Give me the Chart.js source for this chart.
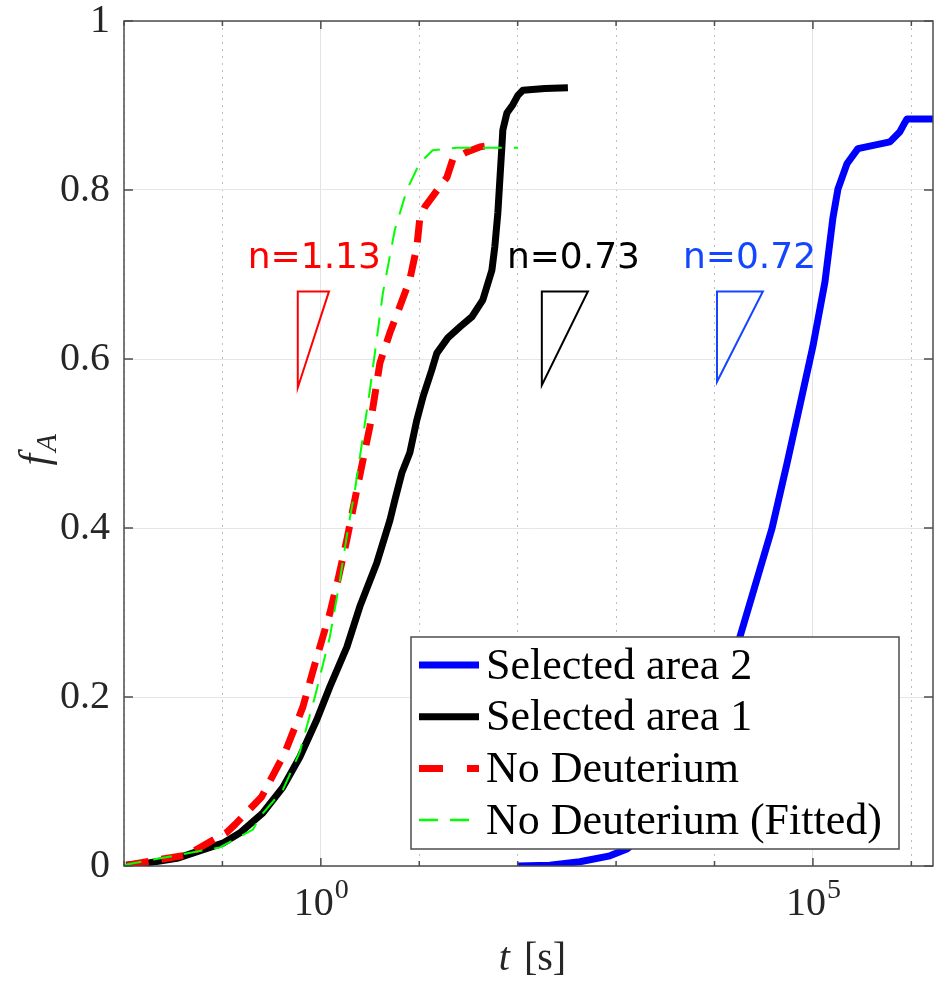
<!DOCTYPE html>
<html>
<head>
<meta charset="utf-8">
<script src="https://cdn.jsdelivr.net/npm/chart.js@4"></script>
<style>
  html, body { margin: 0; padding: 0; background: #fff; }
  canvas { display: block; }
</style>
</head>
<body>
<canvas id="chart" width="946" height="990"></canvas>
<script>
'use strict';
// Values: t in s (log axis), transformed fraction f_A
let area2T = [100.5, 212, 428, 865, 1288, 2786, 5623, 10090, 18110, 38300, 54450, 77270, 100000, 132400, 159700, 179500, 221600, 286700, 606000, 766000, 861000, 902000, 1660000];
let area2F = [0, 0.001, 0.005, 0.012, 0.020, 0.050, 0.106, 0.176, 0.271, 0.399, 0.476, 0.556, 0.615, 0.691, 0.767, 0.801, 0.831, 0.849, 0.857, 0.869, 0.880, 0.884, 0.884];

let area1T = [0.0105, 0.0183, 0.0344, 0.101, 0.150, 0.258, 0.411, 0.612, 0.910, 1.234, 1.837, 2.49, 3.71, 5.03, 5.65, 6.65, 8.02, 9.46, 10.9, 13.4, 15.1, 19.5, 25.9, 34.3, 44.3, 54.7, 58.6, 62.9, 65.9, 69.1, 70.7, 77.7, 89.3, 100.5, 113, 189, 324];
let area1F = [0.001, 0.004, 0.009, 0.027, 0.039, 0.063, 0.093, 0.129, 0.173, 0.212, 0.259, 0.307, 0.359, 0.409, 0.433, 0.465, 0.489, 0.528, 0.555, 0.587, 0.607, 0.625, 0.638, 0.650, 0.670, 0.705, 0.733, 0.773, 0.812, 0.851, 0.871, 0.891, 0.901, 0.912, 0.918, 0.920, 0.921];

let noDeutT = [0.0107, 0.0435, 0.111, 0.134, 0.251, 0.431, 0.656, 0.910, 1.234, 1.488, 1.837, 2.32, 3.15, 3.98, 5.03, 6.35, 8.02, 9.46, 10.1, 11.4, 14.4, 19.1, 21.9, 30.5, 41.3, 58.6];
let noDeutF = [0.001, 0.013, 0.040, 0.049, 0.082, 0.134, 0.188, 0.247, 0.299, 0.338, 0.386, 0.445, 0.520, 0.595, 0.631, 0.662, 0.694, 0.733, 0.765, 0.780, 0.796, 0.815, 0.836, 0.845, 0.851, 0.854];

let fitT = [0.0097, 0.094, 0.204, 0.240, 0.411, 0.612, 0.869, 1.234, 1.56, 1.88, 2.22, 3.15, 4.27, 5.65, 7.48, 10.1, 13.7, 24.1, 100.5];
let fitF = [0.001, 0.022, 0.043, 0.058, 0.090, 0.135, 0.200, 0.271, 0.338, 0.398, 0.445, 0.563, 0.678, 0.753, 0.800, 0.832, 0.847, 0.850, 0.850];

let seriesNames = ['Selected area 2', 'Selected area 1', 'No Deuterium', 'No Deuterium (Fitted)'];

// Avrami exponent notes with slope triangles
let noteText = ['n=1.13', 'n=0.73', 'n=0.72'];
let noteX = [0.181, 77.7, 4780];
let noteY = [0.708, 0.708, 0.708];
let triLeft = [0.583, 176, 10600];
let triRight = [1.21, 517, 31000];
let triTop = [0.680, 0.680, 0.680];
let triBottom = [0.566, 0.569, 0.573];

let decades = [0.01, 0.1, 1, 10, 100, 1000, 10000, 100000, 1000000];
let labelledDecades = [1, 100000];
let yTicks = [0, 0.2, 0.4, 0.6, 0.8, 1];

function toPoints(xs, ys) {
  let pts = [];
  for (let i = 0; i < xs.length; i++) {
    pts.push({ x: xs[i], y: ys[i] });
  }
  return pts;
}

let serif = '"Liberation Serif", "DejaVu Serif", serif';
let axisColor = '#4d4d4d';

// legend look for each series (drawn by hand inside the axes)
let legendStyle = [
  { color: '#0000ff', width: 7, dash: [] },
  { color: '#000000', width: 7, dash: [] },
  { color: '#ff0000', width: 7, dash: [24, 24] },
  { color: '#00ff00', width: 2.5, dash: [19, 12] }
];

let noteColors = ['#ff0000', '#000000', '#1446ff'];

let decorPlugin = {
  id: 'decor',
  afterDraw(chart) {
    let ctx = chart.ctx;
    let xs = chart.scales.x;
    let ys = chart.scales.y;
    let a = chart.chartArea;
    ctx.save();

    // slope notes
    for (let i = 0; i < noteText.length; i++) {
      ctx.fillStyle = noteColors[i];
      ctx.strokeStyle = noteColors[i];
      ctx.font = '36px "DejaVu Sans"';
      ctx.textAlign = 'left';
      ctx.textBaseline = 'alphabetic';
      ctx.fillText(noteText[i], xs.getPixelForValue(noteX[i]), ys.getPixelForValue(noteY[i]));
      let xl = xs.getPixelForValue(triLeft[i]);
      let xr = xs.getPixelForValue(triRight[i]);
      let yt = ys.getPixelForValue(triTop[i]);
      let yb = ys.getPixelForValue(triBottom[i]);
      ctx.lineWidth = 2;
      ctx.setLineDash([]);
      ctx.beginPath();
      ctx.moveTo(xl, yt);
      ctx.lineTo(xr, yt);
      ctx.lineTo(xl, yb);
      ctx.closePath();
      ctx.stroke();
    }

    // box and inward ticks
    ctx.strokeStyle = axisColor;
    ctx.lineWidth = 1.5;
    ctx.strokeRect(a.left, a.top, a.right - a.left, a.bottom - a.top);
    ctx.beginPath();
    for (let v of yTicks) {
      let py = ys.getPixelForValue(v);
      ctx.moveTo(a.left, py); ctx.lineTo(a.left + 9, py);
      ctx.moveTo(a.right, py); ctx.lineTo(a.right - 9, py);
    }
    for (let v of decades) {
      let px = xs.getPixelForValue(v);
      if (px < a.left - 1 || px > a.right + 1) continue;
      let len = labelledDecades.includes(v) ? 8 : 5;
      ctx.moveTo(px, a.bottom); ctx.lineTo(px, a.bottom - len);
      ctx.moveTo(px, a.top); ctx.lineTo(px, a.top + len);
    }
    ctx.stroke();

    // x tick labels with superscript exponent
    ctx.fillStyle = '#262626';
    ctx.textBaseline = 'alphabetic';
    ctx.textAlign = 'left';
    for (let v of labelledDecades) {
      let px = xs.getPixelForValue(v);
      let exp = String(Math.round(Math.log10(v)));
      ctx.font = '40px ' + serif;
      let w1 = ctx.measureText('10').width;
      ctx.font = '28px ' + serif;
      let w2 = ctx.measureText(exp).width;
      let x0 = px - (w1 + w2) / 2;
      ctx.font = '40px ' + serif;
      ctx.fillText('10', x0, a.bottom + 49);
      ctx.font = '28px ' + serif;
      ctx.fillText(exp, x0 + w1 + 1, a.bottom + 32);
    }

    // axis titles
    ctx.font = 'italic 40px ' + serif;
    let tW = ctx.measureText('t').width;
    ctx.font = '40px ' + serif;
    let sW = ctx.measureText(' [s]').width;
    let tx = (a.left + a.right) / 2 - (tW + sW) / 2 + 2;
    ctx.font = 'italic 40px ' + serif;
    ctx.fillText('t', tx, 970);
    ctx.font = '40px ' + serif;
    ctx.fillText(' [s]', tx + tW + 4, 970);

    ctx.save();
    ctx.translate(48, (a.top + a.bottom) / 2 + 22);
    ctx.rotate(-Math.PI / 2);
    ctx.font = 'italic 42px ' + serif;
    ctx.fillText('f', 0, 0);
    let fW = ctx.measureText('f').width;
    ctx.font = 'italic 29px ' + serif;
    ctx.fillText('A', fW + 2, 8);
    ctx.restore();

    // legend
    let lx = a.left + 287;
    let ly = a.top + 616;
    let lw = 488;
    let lh = 212;
    ctx.fillStyle = '#ffffff';
    ctx.fillRect(lx, ly, lw, lh);
    ctx.strokeStyle = '#4d4d4d';
    ctx.lineWidth = 1.5;
    ctx.setLineDash([]);
    ctx.strokeRect(lx, ly, lw, lh);
    ctx.font = '44px ' + serif;
    ctx.textBaseline = 'middle';
    for (let i = 0; i < seriesNames.length; i++) {
      let cy = ly + 28 + i * 51.7;
      let st = legendStyle[i];
      ctx.strokeStyle = st.color;
      ctx.lineWidth = st.width;
      ctx.setLineDash(st.dash);
      ctx.beginPath();
      ctx.moveTo(lx + 8, cy);
      ctx.lineTo(lx + 68, cy);
      ctx.stroke();
      ctx.setLineDash([]);
      ctx.fillStyle = '#000000';
      ctx.fillText(seriesNames[i], lx + 75, cy + 2);
    }
    ctx.restore();
  }
};

// keep tick label overhang from shrinking the plot box
function noScalePadding(scale) {
  scale.paddingTop = 0;
  scale.paddingBottom = 0;
  scale.paddingLeft = 0;
  scale.paddingRight = 0;
}

let chartCanvas = document.getElementById('chart');
let fChart = new Chart(chartCanvas, {
  type: 'line',
  data: {
    datasets: [
      {
        label: seriesNames[0],
        data: toPoints(area2T, area2F),
        borderColor: '#0000ff',
        borderWidth: 7,
        order: 3
      },
      {
        label: seriesNames[1],
        data: toPoints(area1T, area1F),
        borderColor: '#000000',
        borderWidth: 7,
        order: 2
      },
      {
        label: seriesNames[2],
        data: toPoints(noDeutT, noDeutF),
        borderColor: '#ff0000',
        borderWidth: 7,
        borderDash: [22, 13],
        order: 1
      },
      {
        label: seriesNames[3],
        data: toPoints(fitT, fitF),
        borderColor: '#00ff00',
        borderWidth: 2,
        borderDash: [19, 12],
        order: 0
      }
    ]
  },
  options: {
    responsive: false,
    animation: false,
    devicePixelRatio: 1,
    layout: { padding: { top: 21, right: 13, left: 0, bottom: 0 } },
    elements: {
      point: { radius: 0 },
      line: { tension: 0, borderJoinStyle: 'round', fill: false }
    },
    plugins: {
      legend: { display: false },
      tooltip: { enabled: false }
    },
    scales: {
      x: {
        type: 'logarithmic',
        min: 0.01,
        max: 1660000,
        afterBuildTicks: (scale) => {
          scale.ticks = decades.map(v => ({ value: v, major: labelledDecades.includes(v) }));
        },
        afterFit: (scale) => { scale.height = 124; noScalePadding(scale); },
        ticks: { display: false },
        grid: {
          drawTicks: false,
          lineWidth: 1,
          color: (c) => (c.tick && labelledDecades.includes(c.tick.value)) ? '#e3e3e3' : '#bdbdbd'
        },
        border: {
          display: false,
          dash: (c) => (c.tick && labelledDecades.includes(c.tick.value)) ? [] : [2, 5]
        }
      },
      y: {
        min: 0,
        max: 1,
        afterBuildTicks: (scale) => {
          scale.ticks = yTicks.map(v => ({ value: v }));
        },
        afterFit: (scale) => { scale.width = 124; noScalePadding(scale); },
        ticks: {
          padding: 14,
          color: '#262626',
          font: { family: serif, size: 40 },
          callback: (v) => String(Number(v.toFixed(1)))
        },
        grid: { drawTicks: false, color: '#e6e6e6', lineWidth: 1 },
        border: { display: false }
      }
    }
  },
  plugins: [decorPlugin]
});
</script>
</body>
</html>
